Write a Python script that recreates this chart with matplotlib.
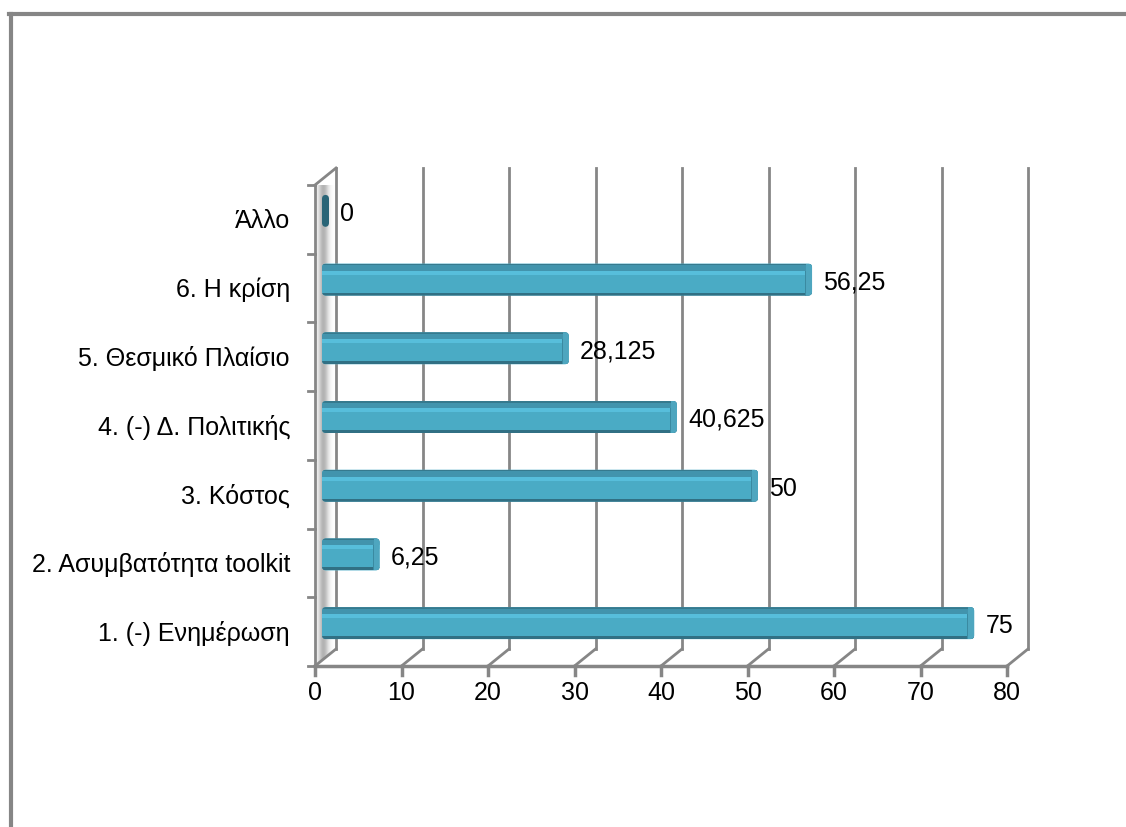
import numpy as np
import matplotlib.pyplot as plt
from matplotlib.patches import Rectangle, FancyBboxPatch, Polygon
from matplotlib.lines import Line2D

# data
categories = ["1. (-) Ενημέρωση", "2. Ασυμβατότητα toolkit", "3. Κόστος",
              "4. (-) Δ. Πολιτικής", "5. Θεσμικό Πλαίσιο", "6. Η κρίση", "Άλλο"]
values = [75, 6.25, 50, 40.625, 28.125, 56.25, 0]
value_labels = ["75", "6,25", "50", "40,625", "28,125", "56,25", "0"]
xticks = [0, 10, 20, 30, 40, 50, 60, 70, 80]

W, H = 1126, 827
FONT = ['Liberation Sans Narrow', 'Liberation Sans', 'DejaVu Sans']
GRID = '#868686'

fig = plt.figure(figsize=(W / 100, H / 100), dpi=100)

# front plane in pixels
x_left, x_right = 315, 1007
y_top, y_bot = 185, 666
ax = fig.add_axes([x_left / W, 1 - y_bot / H, (x_right - x_left) / W, (y_bot - y_top) / H])
ax.set_xlim(0, 80)
ax.set_ylim(-0.5, len(categories) - 0.5)
ax.axis('off')

px_x = (x_right - x_left) / 80.0          # px per x unit
px_y = (y_bot - y_top) / len(categories)  # px per category
dx = 21 / px_x   # depth offset
dy = 17 / px_y
ytop = len(categories) - 0.5

# side wall with soft gray shading
wall = Polygon([[0, -0.5], [dx, -0.5 + dy], [dx, ytop + dy], [0, ytop]],
               closed=True, facecolor='none', edgecolor='none')
ax.add_patch(wall)
g = np.exp(-((np.linspace(0, 1, 60) - 0.4) / 0.25) ** 2)
g = 1 - 0.3 * g
img = ax.imshow(np.tile(g, (2, 1)), cmap='gray', vmin=0, vmax=1, aspect='auto',
                extent=[0, dx, -0.5, ytop + dy], zorder=1, interpolation='bilinear')
img.set_clip_path(wall)
ax.set_xlim(0, 80)
ax.set_ylim(-0.5, ytop)

# back gridlines and floor diagonals
for t in xticks:
    ax.add_line(Line2D([t + dx, t + dx], [-0.5 + dy, ytop + dy], color=GRID, lw=2, clip_on=False, zorder=2))
    ax.add_line(Line2D([t, t + dx], [-0.5, -0.5 + dy], color=GRID, lw=2, clip_on=False, zorder=2))
    ax.add_line(Line2D([t, t], [-0.5, -0.5 - 9 / px_y], color=GRID, lw=2.5, clip_on=False, zorder=2))
    ax.text(t, -0.5 - 27 / px_y, str(t), ha='center', va='center', fontsize=18,
            family=FONT, color='black')

# front axes
ax.add_line(Line2D([0, 80], [-0.5, -0.5], color=GRID, lw=2.5, clip_on=False, zorder=3))
ax.add_line(Line2D([0, 0], [-0.5, ytop], color=GRID, lw=2, clip_on=False, zorder=3))
ax.add_line(Line2D([0, dx], [ytop, ytop + dy], color=GRID, lw=2, clip_on=False, zorder=3))
for k in range(len(categories) + 1):
    ax.add_line(Line2D([0, -7 / px_x], [k - 0.5, k - 0.5], color=GRID, lw=2, clip_on=False, zorder=3))

# bars
h = 16 / px_y
asp = (1 / px_y) / (1 / px_x)
for i, (v, lab) in enumerate(zip(values, value_labels)):
    yc = i + dy / 2
    x0 = 7 / px_x
    x1 = v + dx / 2 if v > 0 else x0 + 7 / px_x
    body_col = '#4aabc5' if v > 0 else '#2a6577'
    body = FancyBboxPatch((x0, yc - h), x1 - x0, 2 * h,
                          boxstyle='round,pad=0,rounding_size=%f' % (4 / px_x),
                          mutation_aspect=asp, facecolor=body_col, edgecolor='none', zorder=4)
    ax.add_patch(body)
    if v > 0:
        strips = [(yc + h - 1.5 / px_y, 1.5 / px_y, '#367a8e'),
                  (yc + h - 7 / px_y, 5.5 / px_y, '#4294ad'),
                  (yc + h - 11 / px_y, 4 / px_y, '#57bedb'),
                  (yc - h, 3 / px_y, '#317084')]
        for yb, hh, c in strips:
            r = Rectangle((x0, yb), x1 - x0, hh, facecolor=c, edgecolor='none', zorder=5)
            ax.add_patch(r)
            r.set_clip_path(body)
        cap = Rectangle((x1 - 6 / px_x, yc - h), 6 / px_x, 2 * h, facecolor='#4ea6bf',
                        edgecolor='none', zorder=6)
        ax.add_patch(cap)
        cap.set_clip_path(body)
        capl = Rectangle((x1 - 7 / px_x, yc - h), 1.2 / px_x, 2 * h - 7 / px_y, facecolor='#3a8aa1',
                         edgecolor='none', zorder=6)
        ax.add_patch(capl)
        capl.set_clip_path(body)
    ax.text(x1 + 11 / px_x, yc - 3 / px_y, lab, ha='left', va='center', fontsize=18,
            family=FONT, color='black', zorder=7)

# category labels
for i, c in enumerate(categories):
    ax.text(-25 / px_x, i - 2 / px_y, c, ha='right', va='center', fontsize=18,
            family=FONT, color='black')

# outer chart border (only top and left visible)
fig.add_artist(Line2D([10.5 / W, 10.5 / W], [0, 1 - 13.5 / H], color=GRID, lw=3))
fig.add_artist(Line2D([9 / W, 1], [1 - 13.5 / H, 1 - 13.5 / H], color=GRID, lw=3))

fig.savefig('out.png', dpi=100)
